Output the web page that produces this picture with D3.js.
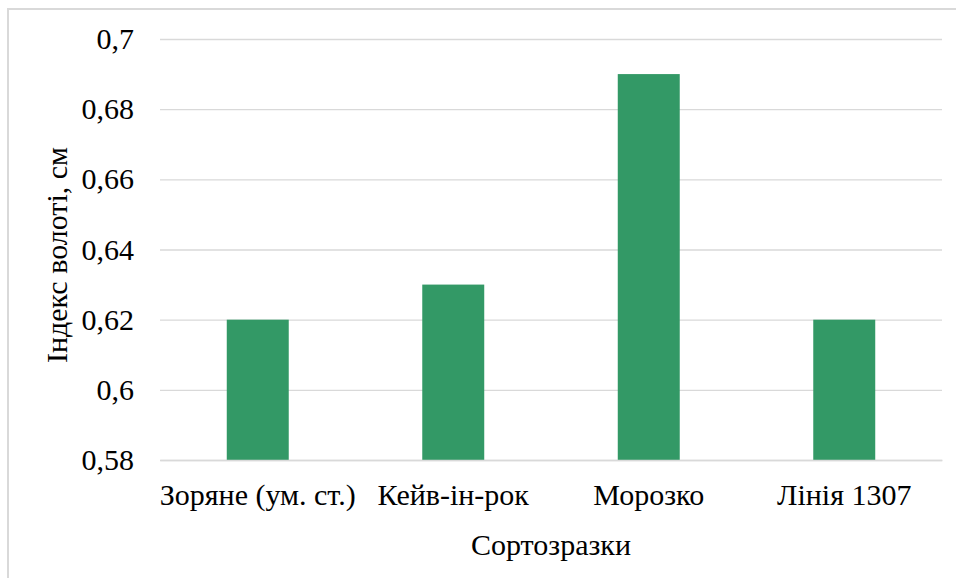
<!DOCTYPE html>
<html>
<head>
<meta charset="utf-8">
<script src="https://cdn.jsdelivr.net/npm/d3@7"></script>
<style>
  html, body { margin: 0; padding: 0; background: #fff; }
  svg { display: block; }
</style>
</head>
<body>
<svg id="chart" width="956" height="578"></svg>
<script>
// Panicle index by variety sample
const categories = ["Зоряне (ум. ст.)", "Кейв-ін-рок", "Морозко", "Лінія 1307"];
const values = [0.62, 0.63, 0.69, 0.62];
const yTicks = [0.58, 0.6, 0.62, 0.64, 0.66, 0.68, 0.7];
const yTitle = "Індекс волоті, см";
const xTitle = "Сортозразки";

const FONT = "Liberation Serif, Times New Roman, serif";
const FS = "30px";

const svg = d3.select("#chart");
const W = 956, H = 578;
const margin = { left: 160, right: 14, top: 39, bottom: 118 };

// chart frame (runs past the right and bottom edges)
svg.append("rect")
  .attr("x", 8).attr("y", 9)
  .attr("width", W + 20).attr("height", H + 20)
  .attr("fill", "#fff")
  .attr("stroke", "#d9d9d9").attr("stroke-width", 2);

const x = d3.scaleBand()
  .domain(categories)
  .range([margin.left, W - margin.right])
  .paddingInner(0.683).paddingOuter(0.3415);

const y = d3.scaleLinear()
  .domain([0.58, 0.7])
  .range([H - margin.bottom, margin.top]);

const fmt = d => d3.format(".2~f")(d).replace(".", ",");

// gridlines
const grid = svg.append("g")
  .attr("transform", `translate(${margin.left},0)`)
  .call(d3.axisLeft(y).tickValues(yTicks).tickSize(-(W - margin.right - margin.left)).tickFormat(""));
grid.select(".domain").remove();
grid.selectAll("line").attr("stroke", "#d9d9d9").attr("stroke-width", 1.3);

// y tick labels
const yAxis = svg.append("g")
  .attr("transform", `translate(${margin.left - 26},0)`)
  .call(d3.axisLeft(y).tickValues(yTicks).tickSize(0).tickPadding(0).tickFormat(fmt));
yAxis.select(".domain").remove();
yAxis.selectAll("text")
  .style("font-family", FONT).style("font-size", FS)
  .attr("fill", "#000");

// bars
svg.append("g").selectAll("rect")
  .data(values)
  .join("rect")
  .attr("x", (d, i) => x(categories[i]))
  .attr("width", x.bandwidth())
  .attr("y", d => y(d))
  .attr("height", d => y(0.58) - y(d))
  .attr("fill", "#339966");

// x axis
const xAxis = svg.append("g")
  .attr("transform", `translate(0,${y(0.58)})`)
  .call(d3.axisBottom(x).tickSize(0));
xAxis.select(".domain").attr("stroke", "#d9d9d9").attr("stroke-width", 1.3);
xAxis.selectAll("text")
  .style("font-family", FONT).style("font-size", FS)
  .attr("fill", "#000")
  .attr("dy", 0).attr("y", 45);

// axis titles
svg.append("text")
  .attr("x", (margin.left + W - margin.right) / 2)
  .attr("y", 555)
  .attr("text-anchor", "middle")
  .style("font-family", FONT).style("font-size", FS)
  .text(xTitle);

svg.append("text")
  .attr("transform", `translate(67,255) rotate(-90)`)
  .attr("text-anchor", "middle")
  .style("font-family", FONT).style("font-size", FS)
  .text(yTitle);
</script>
</body>
</html>
